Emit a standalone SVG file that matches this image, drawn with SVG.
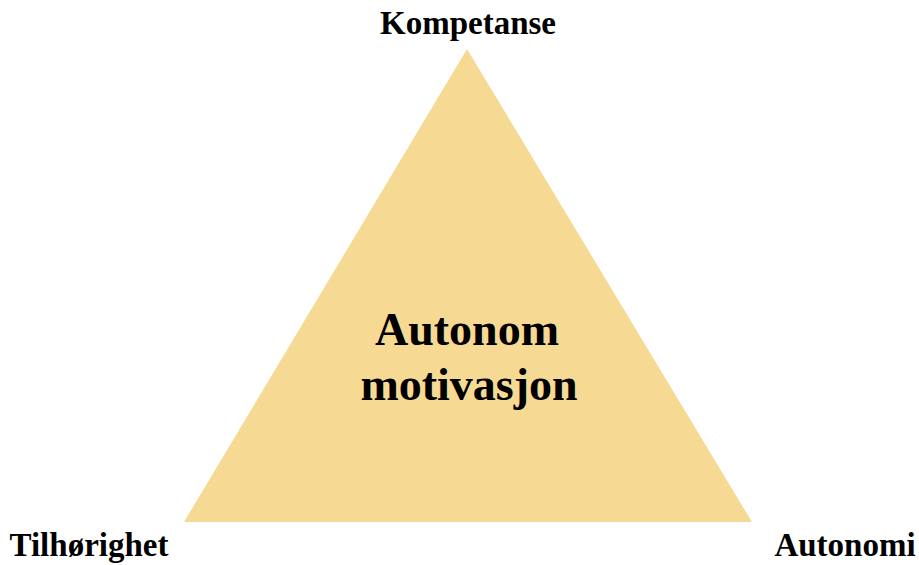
<svg xmlns="http://www.w3.org/2000/svg" width="919" height="565" viewBox="0 0 919 565">
  <style>
    .label { font-family: "Liberation Serif", "Times New Roman", serif; font-weight: bold; fill: #000; text-anchor: middle; }
    .corner { font-size: 33px; }
    .center { font-size: 46px; }
  </style>
  <rect width="919" height="565" fill="#fff"/>
  <g id="triangle">
    <polygon points="467,49 184,522 752,522" fill="#F6DA94"/>
    <text class="label center" x="467" y="345">Autonom</text>
    <text class="label center" x="469" y="400">motivasjon</text>
  </g>
  <g id="kompetanse">
    <text class="label corner" x="468" y="34">Kompetanse</text>
  </g>
  <g id="tilhorighet">
    <text class="label corner" x="89" y="556">Tilhørighet</text>
  </g>
  <g id="autonomi">
    <text class="label corner" x="845" y="556">Autonomi</text>
  </g>
  <g id="connectors"/>
</svg>
